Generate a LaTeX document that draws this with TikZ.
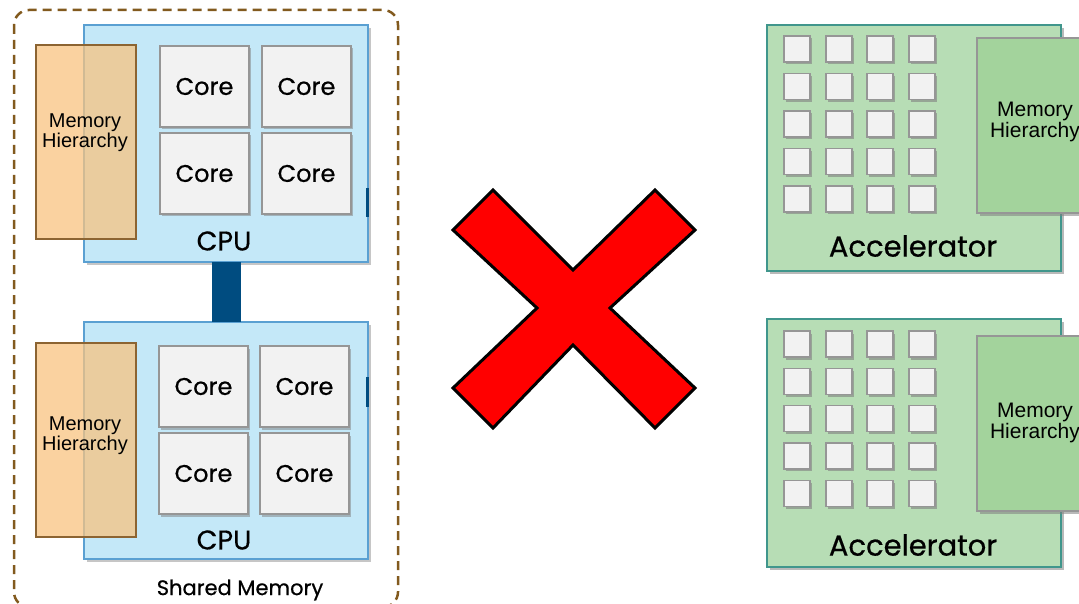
\documentclass[tikz,border=0pt]{standalone}
\usepackage{fontspec}
\newfontfamily\geo[FakeBold=0.6]{Poppins}
\newfontfamily\arial{Liberation Sans}
\usetikzlibrary{shadows}

\definecolor{frameBrown}{RGB}{130,90,30}
\definecolor{cpuFill}{RGB}{196,232,248}
\definecolor{cpuLine}{RGB}{90,160,210}
\definecolor{memFill}{RGB}{248,195,128}
\definecolor{memLine}{RGB}{140,100,50}
\definecolor{coreFill}{RGB}{242,242,242}
\definecolor{coreLine}{RGB}{150,150,150}
\definecolor{busBlue}{RGB}{0,76,128}
\definecolor{accFill}{RGB}{183,221,181}
\definecolor{accLine}{RGB}{64,150,140}
\definecolor{accMemFill}{RGB}{163,211,156}
\definecolor{crossRed}{RGB}{255,0,0}

\tikzset{
  box/.style={rectangle, inner sep=0pt, outer sep=0pt, anchor=north west},
  cpubox/.style={box, fill=cpuFill, draw=cpuLine, line width=1.6pt,
    drop shadow={shadow xshift=3pt, shadow yshift=-3pt, opacity=0.45}},
  membox/.style={box, fill=memFill, fill opacity=0.75, draw=memLine, line width=1.6pt,
    minimum width=100pt, minimum height=194pt},
  corebox/.style={box, fill=coreFill, draw=coreLine, line width=1.6pt,
    minimum width=89pt, minimum height=81pt, font=\geo\fontsize{24}{24}\selectfont,
    drop shadow={shadow xshift=2pt, shadow yshift=-2.5pt, opacity=0.5}},
  accbox/.style={box, fill=accFill, draw=accLine, line width=1.6pt,
    minimum width=294pt,
    drop shadow={shadow xshift=3pt, shadow yshift=-3pt, opacity=0.55}},
  accmem/.style={box, fill=accMemFill, draw=coreLine, line width=1.6pt,
    minimum width=120pt, minimum height=175pt,
    drop shadow={shadow xshift=3pt, shadow yshift=-3pt, opacity=0.55}},
  pe/.style={box, fill=coreFill, draw=coreLine, line width=1.2pt,
    minimum width=26pt, minimum height=26pt,
    drop shadow={shadow xshift=1.5pt, shadow yshift=-2.5pt, opacity=0.6}},
  memtext/.style={inner sep=0pt, align=center, font=\arial\fontsize{20}{16}\selectfont},
  accmemtext/.style={inner sep=0pt, align=center, font=\arial\fontsize{21}{17}\selectfont},
  chiplabel/.style={inner sep=0pt, font=\geo\fontsize{27}{27}\selectfont},
  acclabel/.style={inner sep=0pt, font=\geo\fontsize{29}{29}\selectfont},
  bus/.style={draw=busBlue, line width=29pt},
  stub/.style={fill=busBlue},
  frame/.style={draw=frameBrown, line width=2.5pt, dash pattern=on 9pt off 6pt,
    rounded corners=15pt},
  cross/.style={fill=crossRed, draw=black, line width=3pt, line join=miter}
}

\begin{document}
\begin{tikzpicture}[x=1pt, y=-1pt]
\useasboundingbox (0,0) rectangle (1079,604);
\clip (0,0) rectangle (1079,604);

% shared-memory frame around the two CPUs
\draw[frame] (14,10) rectangle (398,607);
\node[inner sep=0pt, font=\geo\fontsize{21}{21}\selectfont] (shared) at (240,590) {Shared Memory};

% CPU packages
\node[cpubox, minimum width=284pt, minimum height=237pt] (cpuA) at (84,25) {};
\node[cpubox, minimum width=284pt, minimum height=237pt] (cpuB) at (84,322) {};

% interconnect between the two CPUs
\draw[bus] (226,262) coordinate (busA) -- (226,322) coordinate (busB);

% connector stubs on the package edges
\fill[stub] (366,188) rectangle (369,217);
\fill[stub] (366,377) rectangle (369,407);
\fill[stub] (766,207) rectangle (769,230);
\fill[stub] (766,357) rectangle (769,382);

% memory hierarchies of the CPUs
\node[membox] (memA) at (36,45) {};
\node[membox] (memB) at (36,343) {};
\node[memtext] (memAtxt) at (85,133) {Memory\\Hierarchy};
\node[memtext] (memBtxt) at (85,436) {Memory\\Hierarchy};

% cores
\node[corebox] (cA1) at (160,46) {Core};
\node[corebox] (cA2) at (262,46) {Core};
\node[corebox] (cA3) at (160,133) {Core};
\node[corebox] (cA4) at (262,133) {Core};
\node[corebox] (cB1) at (159,346) {Core};
\node[corebox] (cB2) at (260,346) {Core};
\node[corebox] (cB3) at (159,433) {Core};
\node[corebox] (cB4) at (260,433) {Core};

\node[chiplabel] (cpuAlbl) at (224,241) {CPU};
\node[chiplabel] (cpuBlbl) at (224,540) {CPU};

% accelerators
\node[accbox, minimum height=246pt] (accA) at (767,25) {};
\node[accbox, minimum height=248pt] (accB) at (767,319) {};

\node[accmem] (amA) at (977,38) {};
\node[accmem] (amB) at (977,336) {};
\node[accmemtext] (amAtxt) at (1035,122) {Memory\\Hierarchy};
\node[accmemtext] (amBtxt) at (1035,423) {Memory\\Hierarchy};

\foreach \c/\x in {0/784,1/826,2/867,3/909}{
  \foreach \r in {0,...,4}{
    \node[pe] (peA\c\r) at (\x,36+37.5*\r) {};
    \node[pe] (peB\c\r) at (\x,331+37.3*\r) {};
  }
}

\node[acclabel] (accAlbl) at (913,246) {Accelerator};
\node[acclabel] (accBlbl) at (913,545) {Accelerator};

% red cross
\draw[cross] (493,190) -- (573,270) -- (655,190) -- (695,230) -- (610,308)
  -- (695,388) -- (655,428) -- (573,345) -- (493,428) -- (453,388)
  -- (537,308) -- (453,230) -- cycle;
\end{tikzpicture}
\end{document}
